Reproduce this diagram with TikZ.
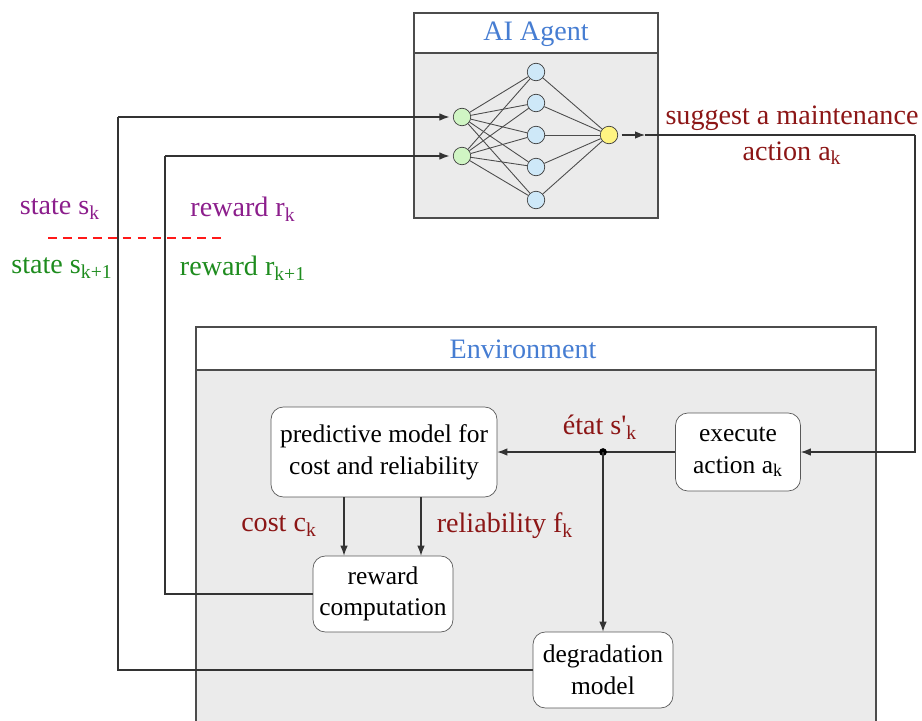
\documentclass[tikz,border=0pt]{standalone}
\usepackage{fontspec}
\setmainfont{Liberation Serif}
\usetikzlibrary{arrows.meta}
\definecolor{actred}{RGB}{140,22,22}
\definecolor{oldpurple}{RGB}{140,30,140}
\definecolor{newgreen}{RGB}{30,140,30}
\definecolor{titleblue}{RGB}{70,125,210}
\definecolor{panel}{RGB}{235,235,235}
\definecolor{ingreen}{RGB}{208,245,196}
\definecolor{hidblue}{RGB}{206,232,248}
\definecolor{outyellow}{RGB}{255,244,130}
\newcommand{\lblfont}{\fontsize{16}{20.5}\selectfont}

\begin{document}
\begin{tikzpicture}[x = 0.02cm, y = -0.02cm,
  wire/.style = {draw = black!80, line width = 0.6pt},
  arr/.style = {wire, -{Latex[length = 2mm, width = 1.5mm]}},
  frame/.style = {draw = black!70, line width = 0.6pt},
  block/.style = {draw = black!65, fill = white, rounded corners = 7pt, align = center,
    font = \fontsize{14.5}{18}\selectfont, inner sep = 0pt},
  neuron/.style = {circle, draw = black!75, minimum size = 0.35cm, inner sep = 0pt},
  lbl/.style = {font = \lblfont, align = center}]
\useasboundingbox (0,0) rectangle (922,720);
\clip (0,0) rectangle (922,720);
\draw[frame, fill = white] (414,13) rectangle (658,53);
\draw[frame, fill = panel] (414,53) rectangle (658,218);
\draw[frame, fill = white] (196,327) rectangle (876,370);
\draw[frame, fill = panel] (196,370) rectangle (876,740);
\node[lbl, text = titleblue] (agent) at (536,34) {AI Agent};
\node[lbl, text = titleblue] (env) at (523,349) {Environment};
\foreach \y [count = \i] in {117,156}
  \node[neuron, fill = ingreen] (i\i) at (462,\y) {};
\foreach \y [count = \i] in {72,103,135,167,200}
  \node[neuron, fill = hidblue] (h\i) at (536,\y) {};
\node[neuron, fill = outyellow] (o) at (609,135) {};
\foreach \i in {1,2}
  \foreach \j in {1,...,5}
    \draw[black!70, line width = 0.5pt] (i\i) -- (h\j);
\foreach \j in {1,...,5}
  \draw[black!70, line width = 0.5pt] (h\j) -- (o);
\node[block, minimum width = 4.52cm, minimum height = 1.8cm] (pred) at (384,452) {predictive model for\\cost and reliability};
\node[block, minimum width = 2.5cm, minimum height = 1.56cm] (exec) at (738,452) {execute\\action a\textsubscript{k}};
\node[block, minimum width = 2.8cm, minimum height = 1.52cm] (reward) at (383,594) {reward\\computation};
\node[block, minimum width = 2.8cm, minimum height = 1.52cm] (degr) at (603,670) {degradation\\model};
\coordinate (j) at (603,452);
\coordinate (tip) at (645,135);
\coordinate (c1) at (118,117);
\coordinate (c2) at (165,156);
\coordinate (c3) at (915,135);
\draw[arr] (exec.west) -- (pred.east);
\fill[black] (j) circle (2.2pt);
\draw[arr] (j) -- (degr.north);
\draw[arr] ([xshift = -0.8cm]pred.south) -- ([xshift = -0.8cm]pred.south |- reward.north);
\draw[arr] ([xshift = 0.74cm]pred.south) -- ([xshift = 0.74cm]pred.south |- reward.north);
\draw[wire] (reward.west) -| (c2);
\draw[arr, shorten > = 2pt] (c2) -- (i2);
\draw[wire] (degr.west) -| (c1);
\draw[arr, shorten > = 2pt] (c1) -- (i1);
\draw[arr, shorten < = 2pt] (o) -- (tip);
\draw[wire] (tip) -- (c3);
\draw[arr] (c3) |- (exec.east);
\node[lbl, text = actred] (etat) at (600,427) {état s\textquotesingle\textsubscript{k}};
\node[lbl, text = actred] (cost) at (279,526) {cost c\textsubscript{k}};
\node[lbl, text = actred] (rel) at (505,526) {reliability f\textsubscript{k}};
\node[lbl, text = actred] (suggest) at (792,135) {suggest a maintenance\\action a\textsubscript{k}};
\node[lbl, text = oldpurple] (sk) at (60,209) {state s\textsubscript{k}};
\node[lbl, text = oldpurple] (rk) at (243,209) {reward r\textsubscript{k}};
\node[lbl, text = newgreen] (sk1) at (62,268) {state s\textsubscript{k+1}};
\node[lbl, text = newgreen] (rk1) at (243,268) {reward r\textsubscript{k+1}};
\draw[red!90, line width = 0.8pt, dash pattern = on 5pt off 3.5pt] (48,238) -- (224,238);
\end{tikzpicture}
\end{document}
